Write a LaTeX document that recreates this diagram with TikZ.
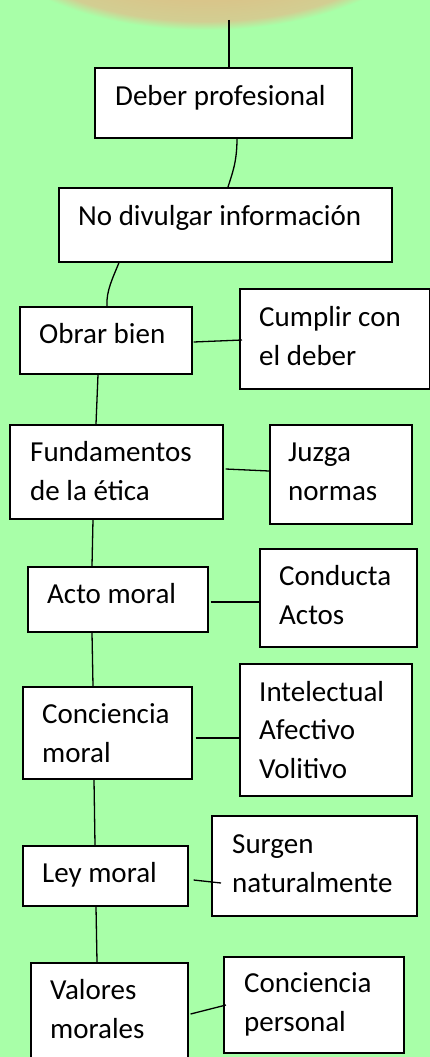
\documentclass[tikz,border=0pt]{standalone}
\usepackage{fontspec}
\setmainfont{Carlito}
\usetikzlibrary{calc}
\definecolor{bgG}{RGB}{168,255,168}
\definecolor{sunA}{RGB}{236,178,112}
\definecolor{sunB}{RGB}{222,190,132}
\definecolor{sunC}{RGB}{210,206,146}
\pgfdeclareradialshading{sunshade}{\pgfpoint{0bp}{0bp}}{color(0bp)=(sunA); color(15bp)=(sunB); color(23bp)=(sunC); color(25bp)=(bgG); color(50bp)=(bgG)}
\begin{document}
\begin{tikzpicture}[x=1pt,y=-1pt,
  box/.style={draw=black, fill=white, line width=1.6pt, inner sep=0pt, anchor=north west, rectangle},
  txt/.style={font=\fontsize{29}{38.5}\selectfont, inner sep=0pt, anchor=base west, align=left, text=black},
  link/.style={draw=black, line width=1.3pt}]
\fill[bgG] (0,0) rectangle (430,1057);
\useasboundingbox (0,0) rectangle (430,1057);
\shade[shading=sunshade] (205,-82) ellipse [x radius=230, y radius=112];
% boxes
\node[box, minimum width=257, minimum height=70] (b1) at (94,67) {};
\node[box, minimum width=333, minimum height=74] (b2) at (58,187) {};
\node[box, minimum width=172, minimum height=67] (b3) at (19,306) {};
\node[box, minimum width=190, minimum height=100] (b4) at (239,288) {};
\node[box, minimum width=213, minimum height=94] (b5) at (9,424) {};
\node[box, minimum width=142, minimum height=99] (b6) at (269,424) {};
\node[box, minimum width=180, minimum height=65] (b7) at (27,566) {};
\node[box, minimum width=157, minimum height=98] (b8) at (259,548) {};
\node[box, minimum width=169, minimum height=92] (b9) at (22,686) {};
\node[box, minimum width=172, minimum height=132] (b10) at (239,663) {};
\node[box, minimum width=165, minimum height=60] (b11) at (22,845) {};
\node[box, minimum width=205, minimum height=100] (b12) at (211,815) {};
\node[box, minimum width=157, minimum height=110] (b13) at (30,962) {};
\node[box, minimum width=180, minimum height=96] (b14) at (223,956) {};
% texts (anchor = baseline of the last line)
\node[txt] (t1) at (115,105) {Deber profesional};
\node[txt] (t2) at (78,225) {No divulgar información};
\node[txt] (t3) at (39,343) {Obrar bien};
\node[txt] (t4) at (259,365) {Cumplir con\\el deber};
\node[txt] (t5) at (30,500) {Fundamentos\\de la ética};
\node[txt] (t6) at (288,500) {Juzga\\normas};
\node[txt] (t7) at (47,603) {Acto moral};
\node[txt] (t8) at (279,624) {Conducta\\Actos};
\node[txt] (t9) at (42,762) {Conciencia\\moral};
\node[txt] (t10) at (259,778) {Intelectual\\Afectivo\\Volitivo};
\node[txt] (t11) at (42,882) {Ley moral};
\node[txt] (t12) at (232,892) {Surgen\\naturalmente};
\node[txt] (t13) at (50,1038) {Valores\\morales};
\node[txt] (t14) at (244,1031) {Conciencia\\personal};
% connectors
\coordinate (s) at (229,20);
\draw[link] (s) -- ($(b1.north west)+(135,0)$);
\draw[link] ($(b1.south west)+(143,0)$) .. controls +(0,24) and +(4,-13) .. ($(b2.north west)+(170,0)$);
\draw[link] ($(b2.south west)+(61,0)$) .. controls +(-6,15) and +(-1,-15) .. ($(b3.north west)+(88,0)$);
\draw[link] ($(b3.north east)+(1,36)$) -- ($(b4.north west)+(3,52)$);
\draw[link] ($(b3.south west)+(79,0)$) -- ($(b5.north west)+(87,0)$);
\draw[link] ($(b5.north east)+(2,45)$) -- ($(b6.north west)+(0,47)$);
\draw[link] ($(b5.south west)+(84,0)$) -- ($(b7.north west)+(65,0)$);
\draw[link] ($(b7.north east)+(2,36)$) -- ($(b8.north west)+(0,54)$);
\draw[link] ($(b7.south west)+(65,0)$) -- ($(b9.north west)+(71,0)$);
\draw[link] ($(b9.north east)+(3,52)$) -- ($(b10.north west)+(0,75)$);
\draw[link] ($(b9.south west)+(72,0)$) -- ($(b11.north west)+(73,0)$);
\draw[link] ($(b11.north east)+(5,35)$) -- ($(b12.north west)+(10,68)$);
\draw[link] ($(b11.south west)+(74,0)$) -- ($(b13.north west)+(67,0)$);
\draw[link] ($(b13.north east)+(2,52)$) -- ($(b14.north west)+(3,49)$);
\end{tikzpicture}
\end{document}
